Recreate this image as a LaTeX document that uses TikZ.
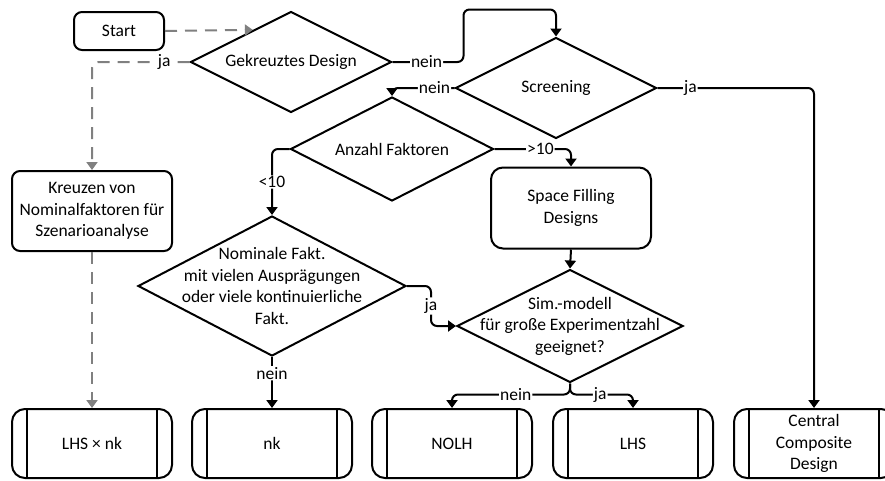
\documentclass[tikz,border=0pt]{standalone}
\usepackage{fontspec}
\setmainfont{Carlito}
\usetikzlibrary{shapes.geometric,arrows.meta,calc}
\tikzset{
  every node/.style={font=\fontsize{17.5}{21.5}\selectfont},
  termbox/.style={draw, line width=2pt, rounded corners=8pt, align=center, inner sep=0pt},
  predef/.style={draw, line width=2pt, rounded corners=13pt, minimum width=160pt, minimum height=69pt, align=center, inner sep=0pt,
    path picture={
      \draw[line width=2pt] ([xshift=15pt]path picture bounding box.north west) -- ([xshift=15pt]path picture bounding box.south west);
      \draw[line width=2pt] ([xshift=-15pt]path picture bounding box.north east) -- ([xshift=-15pt]path picture bounding box.south east);}},
  decision/.style={draw, diamond, aspect=2, line width=2pt, inner sep=0pt},
  lbl/.style={fill=white, inner sep=1pt},
  flow/.style={line width=2pt, rounded corners=6pt, -{Triangle[length=8pt,width=11pt]}},
  dashflow/.style={flow, gray, dash pattern=on 12pt off 8pt},
}
\begin{document}
\begin{tikzpicture}[x=1pt,y=-1pt]
\useasboundingbox (0,0) rectangle (885,480);
% boxes and decisions
\node[termbox, minimum width=90pt, minimum height=38pt] (start) at (119,31) {Start};
\node[decision, minimum width=201pt, minimum height=101pt] (gek) at (291,62) {Gekreuztes Design};
\node[decision, minimum width=201pt, minimum height=101pt] (scr) at (556,88) {Screening};
\node[decision, minimum width=203pt, minimum height=104pt] (anz) at (392,149) {Anzahl Faktoren};
\node[termbox, minimum width=160pt, minimum height=80pt] (kreuz) at (92,211) {Kreuzen von\\Nominalfaktoren für\\Szenarioanalyse};
\node[termbox, rounded corners=12pt, minimum width=160pt, minimum height=81pt] (sfd) at (571,208) {Space Filling\\Designs};
\node[decision, minimum width=268pt, minimum height=140pt] (nom) at (272,286) {};
\node[align=center] (nomtxt) at (nom) {Nominale Fakt.\\mit vielen Ausprägungen\\oder viele kontinuierliche\\Fakt.};
\node[decision, minimum width=226pt, minimum height=113pt] (sim) at (570,326) {};
\node[align=center] (simtxt) at (sim) {Sim.-modell\\für große Experimentzahl\\geeignet?};
% results
\node[predef] (lhsnk) at (92,443.5) {LHS × nk};
\node[predef] (nk) at (272,443.5) {nk};
\node[predef] (nolh) at (452,443.5) {NOLH};
\node[predef] (lhs) at (633,443.5) {LHS};
\node[predef] (ccd) at (814,443.5) {Central\\Composite\\Design};
% connectors
\draw[dashflow] (start.east) -- ($(gek.north)!0.376!(gek.west)$);
\draw[dashflow] (gek.west) -- node[lbl, pos=0.26, text=black]{ja} (kreuz.north |- gek.west) -- (kreuz.north);
\draw[dashflow] (kreuz.south) -- (lhsnk.north);
\draw[flow] (gek.east) -- node[lbl, pos=0.48]{nein} ++(71,0) |- ([yshift=27pt]scr.north) -- (scr.north);
\draw[flow] (scr.west) -- node[lbl, pos=0.32]{nein} (scr.west -| anz.north) -- (anz.north);
\draw[flow] (scr.east) -- node[lbl, pos=0.21]{ja} (scr.east -| ccd.north) -- (ccd.north);
\draw[flow] (anz.west) -| node[lbl, pos=0.75]{<10} (nom.north);
\draw[flow] (anz.east) -| node[lbl, pos=0.3]{>10} (sfd.north);
\draw[flow] (sfd.south) -- (sim.north);
\draw[flow] (nom.east) -- ++(24,0) |- node[lbl, pos=0.25]{ja} (sim.west);
\draw[flow] (nom.south) -- node[lbl, pos=0.32]{nein} (nk.north);
\draw[flow] (sim.south) -- ++(0,11) -| node[lbl, pos=0.23]{nein} (nolh.north);
\draw[flow] (sim.south) -- ++(0,11) -| node[lbl, pos=0.24]{ja} (lhs.north);
\end{tikzpicture}
\end{document}
